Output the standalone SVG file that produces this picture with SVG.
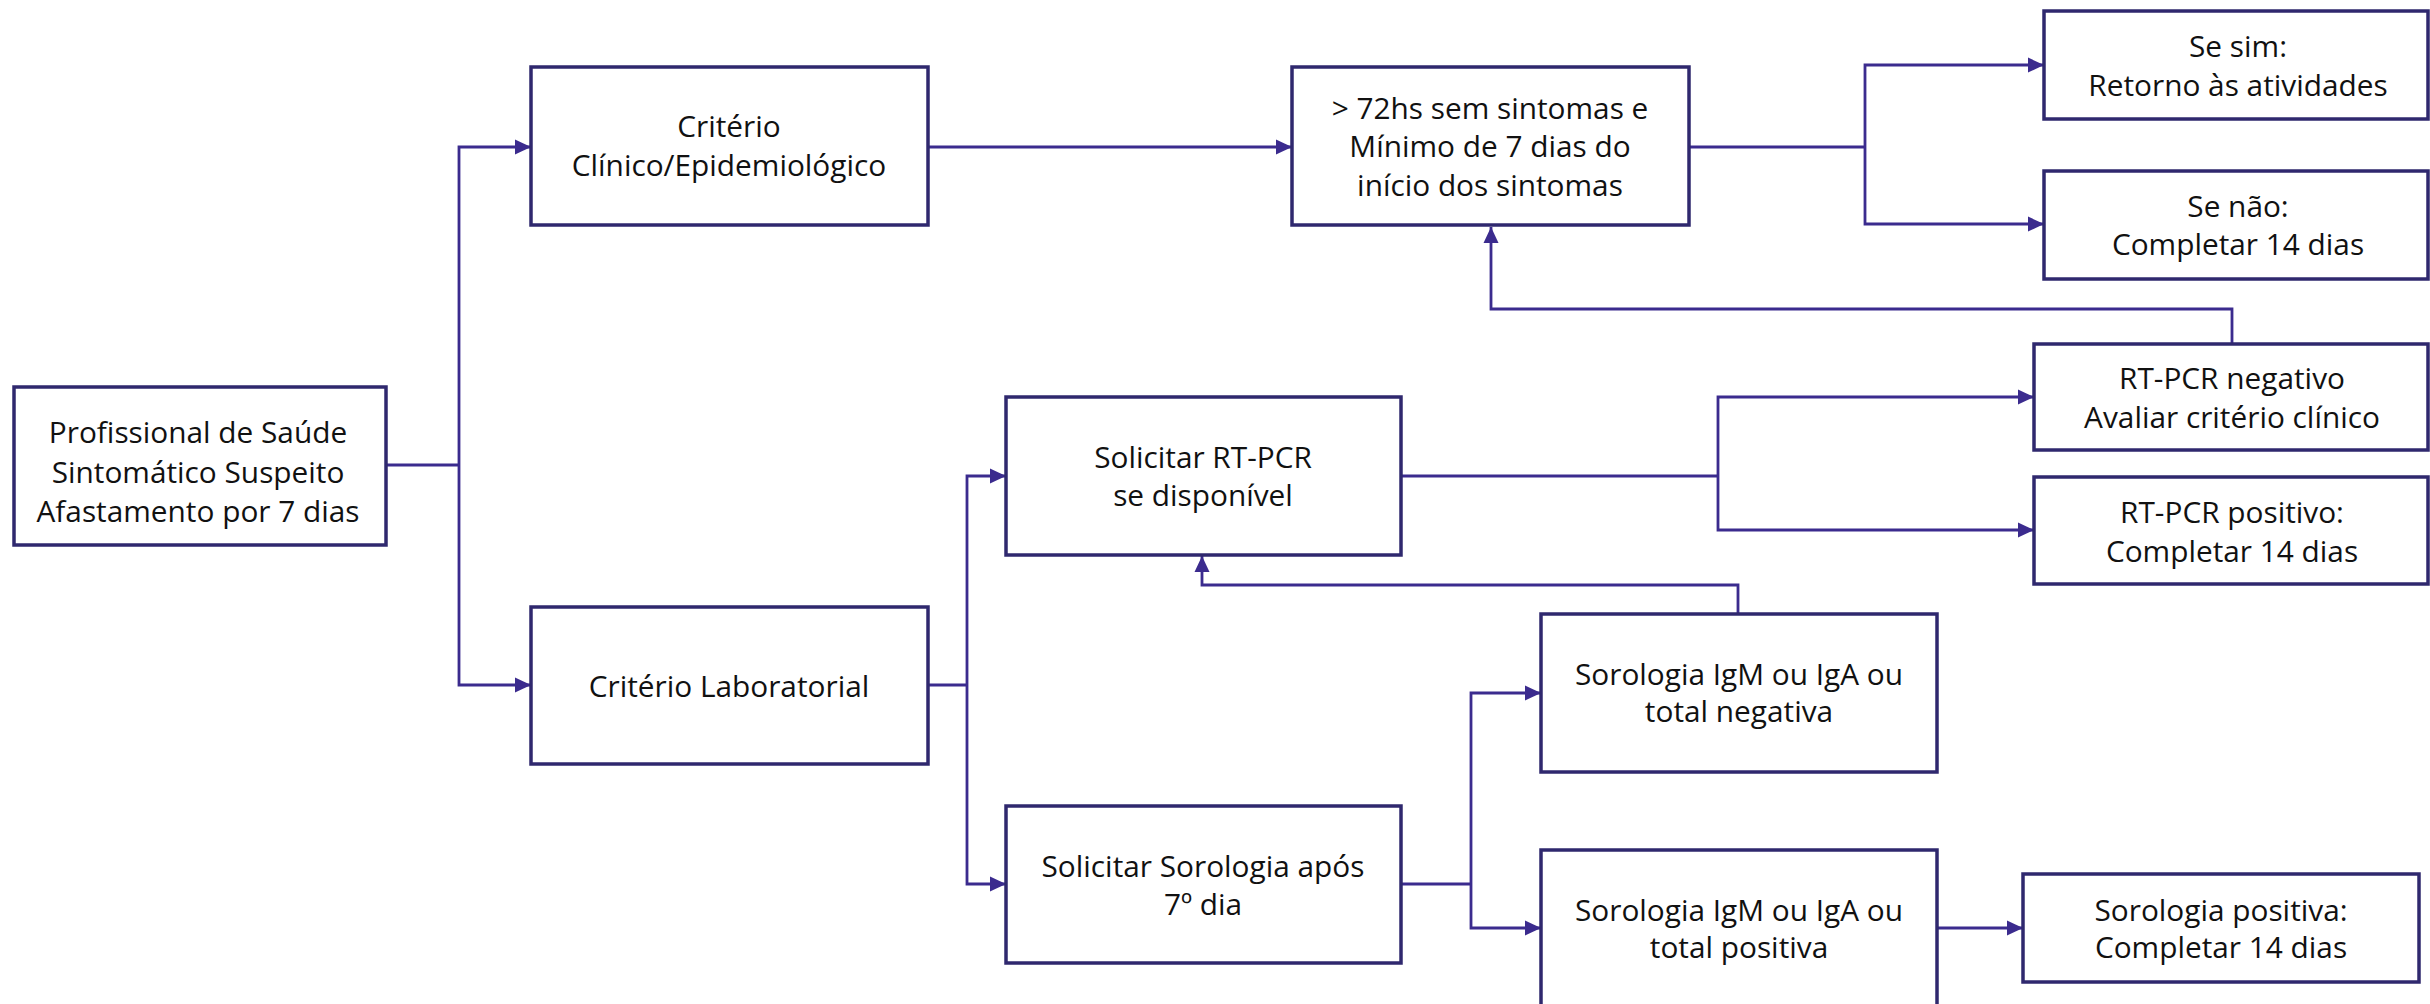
<svg xmlns="http://www.w3.org/2000/svg" width="2430" height="1004" viewBox="0 0 2430 1004">
<style>
.box{fill:#ffffff;stroke:#2f286e;stroke-width:3.5}
.t{font-family:"Open Sans","Noto Sans","Liberation Sans",sans-serif;font-size:29.8px;fill:#111111;text-anchor:middle}
.c{fill:none;stroke:#3b2b8e;stroke-width:2.8}
</style>
<defs>
<marker id="ah" markerUnits="userSpaceOnUse" markerWidth="18" markerHeight="18" viewBox="0 0 18 18" refX="16" refY="9" orient="auto">
<path d="M0,1.5 L16,9 L0,16.5 Z" fill="#3b2b8e"/>
</marker>
</defs>
<rect width="2430" height="1004" fill="#ffffff"/>

<g id="connectors">
<polyline class="c" points="386,465 459,465"/>
<polyline class="c" points="459,465 459,147 531,147" marker-end="url(#ah)"/>
<polyline class="c" points="459,465 459,685 531,685" marker-end="url(#ah)"/>
<polyline class="c" points="928,147 1292,147" marker-end="url(#ah)"/>
<polyline class="c" points="1689,147 1865,147"/>
<polyline class="c" points="1865,147 1865,65 2044,65" marker-end="url(#ah)"/>
<polyline class="c" points="1865,147 1865,224 2044,224" marker-end="url(#ah)"/>
<polyline class="c" points="928,685 967,685"/>
<polyline class="c" points="967,685 967,476 1006,476" marker-end="url(#ah)"/>
<polyline class="c" points="967,685 967,884 1006,884" marker-end="url(#ah)"/>
<polyline class="c" points="1401,476 1718,476"/>
<polyline class="c" points="1718,476 1718,397 2034,397" marker-end="url(#ah)"/>
<polyline class="c" points="1718,476 1718,530 2034,530" marker-end="url(#ah)"/>
<polyline class="c" points="2232,344 2232,309 1491,309 1491,227" marker-end="url(#ah)"/>
<polyline class="c" points="1401,884 1471,884"/>
<polyline class="c" points="1471,884 1471,693 1541,693" marker-end="url(#ah)"/>
<polyline class="c" points="1471,884 1471,928 1541,928" marker-end="url(#ah)"/>
<polyline class="c" points="1738,614 1738,585 1202,585 1202,556" marker-end="url(#ah)"/>
<polyline class="c" points="1937,928 2023,928" marker-end="url(#ah)"/>
</g>

<g id="n-profissional">
<rect class="box" x="14" y="387" width="372" height="158"/>
<text class="t" x="198" y="443">Profissional de Saúde</text>
<text class="t" x="198" y="483">Sintomático Suspeito</text>
<text class="t" x="198" y="522">Afastamento por 7 dias</text>
</g>

<g id="n-clinico">
<rect class="box" x="531" y="67" width="397" height="158"/>
<text class="t" x="729" y="137">Critério</text>
<text class="t" x="729" y="176">Clínico/Epidemiológico</text>
</g>

<g id="n-laboratorial">
<rect class="box" x="531" y="607" width="397" height="157"/>
<text class="t" x="729" y="697">Critério Laboratorial</text>
</g>

<g id="n-72hs">
<rect class="box" x="1292" y="67" width="397" height="158"/>
<text class="t" x="1490" y="119">&gt; 72hs sem sintomas e</text>
<text class="t" x="1490" y="157">Mínimo de 7 dias do</text>
<text class="t" x="1490" y="196">início dos sintomas</text>
</g>

<g id="n-sesim">
<rect class="box" x="2044" y="11" width="384" height="108"/>
<text class="t" x="2238" y="57">Se sim:</text>
<text class="t" x="2238" y="96">Retorno às atividades</text>
</g>

<g id="n-senao">
<rect class="box" x="2044" y="171" width="384" height="108"/>
<text class="t" x="2238" y="217">Se não:</text>
<text class="t" x="2238" y="255">Completar 14 dias</text>
</g>

<g id="n-rtpcr-neg">
<rect class="box" x="2034" y="344" width="394" height="106"/>
<text class="t" x="2232" y="389">RT-PCR negativo</text>
<text class="t" x="2232" y="428">Avaliar critério clínico</text>
</g>

<g id="n-rtpcr-pos">
<rect class="box" x="2034" y="477" width="394" height="107"/>
<text class="t" x="2232" y="523">RT-PCR positivo:</text>
<text class="t" x="2232" y="562">Completar 14 dias</text>
</g>

<g id="n-solicitar-rtpcr">
<rect class="box" x="1006" y="397" width="395" height="158"/>
<text class="t" x="1203" y="468">Solicitar RT-PCR</text>
<text class="t" x="1203" y="506">se disponível</text>
</g>

<g id="n-solicitar-sorologia">
<rect class="box" x="1006" y="806" width="395" height="157"/>
<text class="t" x="1203" y="877">Solicitar Sorologia após</text>
<text class="t" x="1203" y="915">7º dia</text>
</g>

<g id="n-sorologia-neg">
<rect class="box" x="1541" y="614" width="396" height="158"/>
<text class="t" x="1739" y="685">Sorologia IgM ou IgA ou</text>
<text class="t" x="1739" y="722">total negativa</text>
</g>

<g id="n-sorologia-pos">
<rect class="box" x="1541" y="850" width="396" height="170"/>
<text class="t" x="1739" y="921">Sorologia IgM ou IgA ou</text>
<text class="t" x="1739" y="958">total positiva</text>
</g>

<g id="n-sorologia-positiva">
<rect class="box" x="2023" y="874" width="396" height="108"/>
<text class="t" x="2221" y="921">Sorologia positiva:</text>
<text class="t" x="2221" y="958">Completar 14 dias</text>
</g>
</svg>
